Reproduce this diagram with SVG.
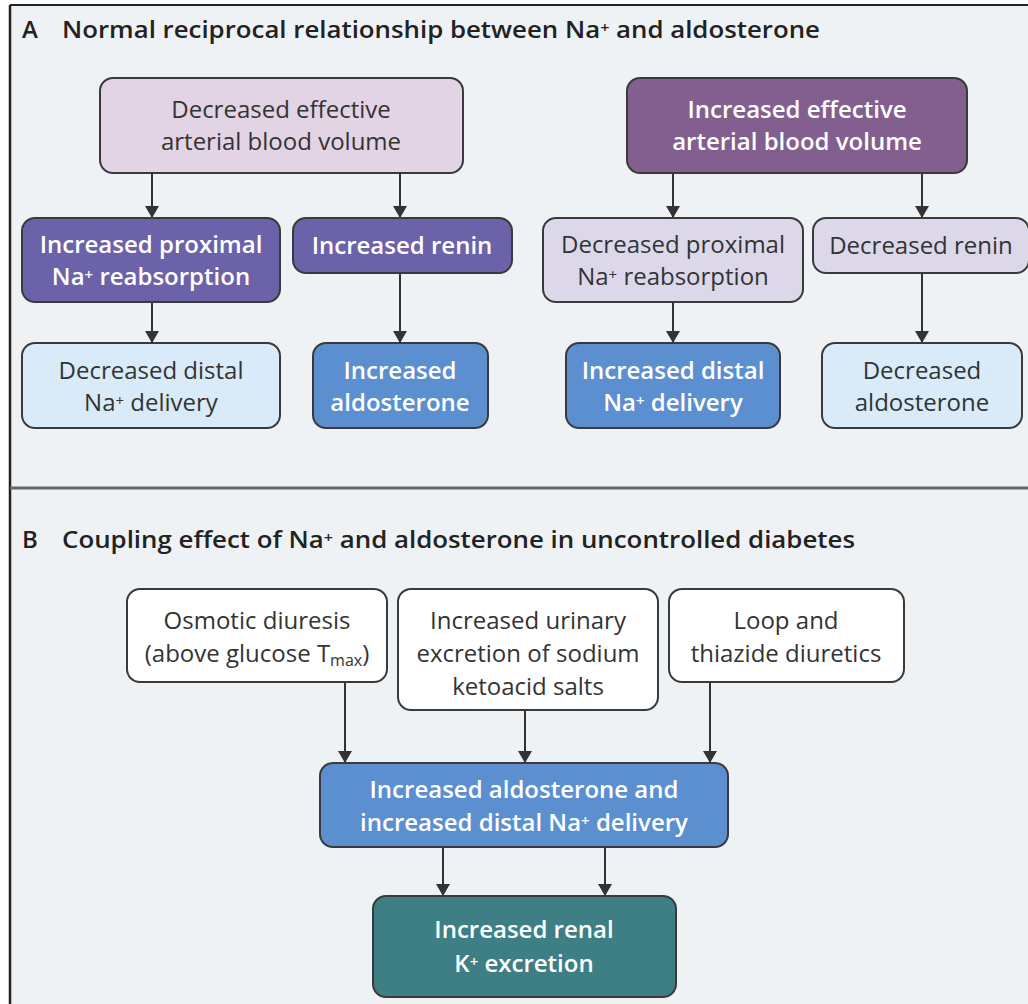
<svg xmlns="http://www.w3.org/2000/svg" width="1028" height="1004" viewBox="0 0 1028 1004">
<defs>
<style>
.bg{fill:#eef2f4}
.box{stroke:#3a3a3a;stroke-width:2}
.t{font-family:"Open Sans","Noto Sans","DejaVu Sans",sans-serif;font-size:24px;text-anchor:middle}
.dk{fill:#333333}
.wh{fill:#ffffff;font-weight:600}
.ttl{font-family:"Open Sans","Noto Sans","DejaVu Sans",sans-serif;font-size:24px;font-weight:600;fill:#222}
.sup{font-size:15px}
.conn line{stroke:#333;stroke-width:2}
</style>
<marker id="ah" viewBox="0 0 12 14" refX="12" refY="7" markerWidth="12" markerHeight="14" markerUnits="userSpaceOnUse" orient="auto">
<path d="M0,0 L12,7 L0,14 Z" fill="#333"/>
</marker>
</defs>
<rect x="0" y="0" width="1028" height="1004" fill="#ffffff"/>
<rect class="bg" x="10" y="5" width="1018" height="999"/>
<line x1="10" y1="5" x2="1028" y2="5" stroke="#222" stroke-width="2"/>
<line x1="10" y1="5" x2="10" y2="1004" stroke="#222" stroke-width="2.5"/>
<line x1="10" y1="488" x2="1028" y2="488" stroke="#666" stroke-width="3"/>

<g id="titleA">
<text class="ttl" x="22" y="38">A</text>
<text class="ttl" x="62" y="38" textLength="758" lengthAdjust="spacingAndGlyphs">Normal reciprocal relationship between Na<tspan class="sup" baseline-shift="35%">+</tspan> and aldosterone</text>
</g>
<g id="titleB">
<text class="ttl" x="22" y="548">B</text>
<text class="ttl" x="62" y="548" textLength="793" lengthAdjust="spacingAndGlyphs">Coupling effect of Na<tspan class="sup" baseline-shift="35%">+</tspan> and aldosterone in uncontrolled diabetes</text>
</g>

<g class="conn" id="connectors">
<line x1="152" y1="173" x2="152" y2="218" marker-end="url(#ah)"/>
<line x1="400" y1="173" x2="400" y2="218" marker-end="url(#ah)"/>
<line x1="152" y1="302" x2="152" y2="343" marker-end="url(#ah)"/>
<line x1="400" y1="273" x2="400" y2="343" marker-end="url(#ah)"/>
<line x1="673" y1="173" x2="673" y2="218" marker-end="url(#ah)"/>
<line x1="922" y1="173" x2="922" y2="218" marker-end="url(#ah)"/>
<line x1="673" y1="302" x2="673" y2="343" marker-end="url(#ah)"/>
<line x1="922" y1="273" x2="922" y2="343" marker-end="url(#ah)"/>
<line x1="345" y1="682" x2="345" y2="763" marker-end="url(#ah)"/>
<line x1="525" y1="710" x2="525" y2="763" marker-end="url(#ah)"/>
<line x1="710" y1="682" x2="710" y2="763" marker-end="url(#ah)"/>
<line x1="443" y1="847" x2="443" y2="896" marker-end="url(#ah)"/>
<line x1="605" y1="847" x2="605" y2="896" marker-end="url(#ah)"/>
</g>

<g id="a1">
<rect class="box" x="100" y="78" width="363" height="95" rx="13" fill="#e2d3e5"/>
<text class="t dk" x="281" y="118">Decreased effective</text>
<text class="t dk" x="281" y="150">arterial blood volume</text>
</g>
<g id="a2">
<rect class="box" x="627" y="78" width="340" height="95" rx="13" fill="#825f8f"/>
<text class="t wh" x="797" y="118">Increased effective</text>
<text class="t wh" x="797" y="150">arterial blood volume</text>
</g>
<g id="a3">
<rect class="box" x="22" y="218" width="258" height="84" rx="13" fill="#6c62a9"/>
<text class="t wh" x="151" y="253">Increased proximal</text>
<text class="t wh" x="151" y="285">Na<tspan class="sup" baseline-shift="35%">+</tspan> reabsorption</text>
</g>
<g id="a4">
<rect class="box" x="293" y="218" width="219" height="55" rx="13" fill="#6c62a9"/>
<text class="t wh" x="402" y="254">Increased renin</text>
</g>
<g id="a5">
<rect class="box" x="22" y="343" width="258" height="85" rx="13" fill="#d9ebf8"/>
<text class="t dk" x="151" y="379">Decreased distal</text>
<text class="t dk" x="151" y="411">Na<tspan class="sup" baseline-shift="35%">+</tspan> delivery</text>
</g>
<g id="a6">
<rect class="box" x="313" y="343" width="175" height="85" rx="13" fill="#5b8fd0"/>
<text class="t wh" x="400" y="379">Increased</text>
<text class="t wh" x="400" y="411">aldosterone</text>
</g>
<g id="a7">
<rect class="box" x="543" y="218" width="260" height="84" rx="13" fill="#dcd8ea"/>
<text class="t dk" x="673" y="253">Decreased proximal</text>
<text class="t dk" x="673" y="285">Na<tspan class="sup" baseline-shift="35%">+</tspan> reabsorption</text>
</g>
<g id="a8">
<rect class="box" x="813" y="218" width="216" height="55" rx="13" fill="#dcd8ea"/>
<text class="t dk" x="921" y="254">Decreased renin</text>
</g>
<g id="a9">
<rect class="box" x="566" y="343" width="214" height="85" rx="13" fill="#5b8fd0"/>
<text class="t wh" x="673" y="379">Increased distal</text>
<text class="t wh" x="673" y="411">Na<tspan class="sup" baseline-shift="35%">+</tspan> delivery</text>
</g>
<g id="a10">
<rect class="box" x="822" y="343" width="200" height="85" rx="13" fill="#d9ebf8"/>
<text class="t dk" x="922" y="379">Decreased</text>
<text class="t dk" x="922" y="411">aldosterone</text>
</g>

<g id="b1">
<rect class="box" x="127" y="589" width="260" height="93" rx="13" fill="#ffffff"/>
<text class="t dk" x="257" y="629">Osmotic diuresis</text>
<text class="t dk" x="257" y="662">(above glucose T<tspan font-size="16" baseline-shift="-25%">max</tspan>)</text>
</g>
<g id="b2">
<rect class="box" x="398" y="589" width="260" height="121" rx="13" fill="#ffffff"/>
<text class="t dk" x="528" y="629">Increased urinary</text>
<text class="t dk" x="528" y="662">excretion of sodium</text>
<text class="t dk" x="528" y="695">ketoacid salts</text>
</g>
<g id="b3">
<rect class="box" x="669" y="589" width="235" height="93" rx="13" fill="#ffffff"/>
<text class="t dk" x="786" y="629">Loop and</text>
<text class="t dk" x="786" y="662">thiazide diuretics</text>
</g>
<g id="b4">
<rect class="box" x="320" y="763" width="408" height="84" rx="13" fill="#5b8fd0"/>
<text class="t wh" x="524" y="798">Increased aldosterone and</text>
<text class="t wh" x="524" y="831">increased distal Na<tspan class="sup" baseline-shift="35%">+</tspan> delivery</text>
</g>
<g id="b5">
<rect class="box" x="373" y="896" width="303" height="101" rx="13" fill="#3e7f85"/>
<text class="t wh" x="524" y="938">Increased renal</text>
<text class="t wh" x="524" y="972">K<tspan class="sup" baseline-shift="35%">+</tspan> excretion</text>
</g>
</svg>
